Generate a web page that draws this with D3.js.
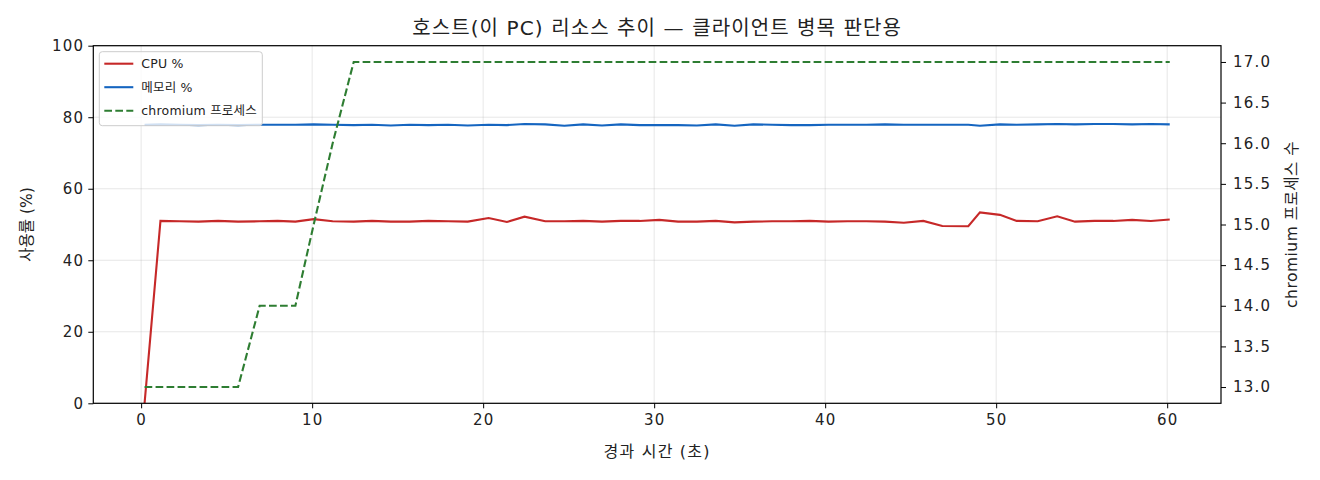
<!DOCTYPE html>
<html>
<head>
<meta charset="utf-8">
<script src="https://cdn.jsdelivr.net/npm/d3@7"></script>
<style>
  body { margin: 0; background: #fff; }
  text { font-family: "DejaVu Sans", "Noto Sans CJK KR", sans-serif; fill: #222; }
</style>
</head>
<body>
<div id="chart"></div>
<script>
// elapsed time (s) of each sample
var times = [0.2, 1.13, 2.25, 3.35, 4.5, 5.67, 6.93, 7.98, 9.02, 10.09,
  11.2, 12.43, 13.5, 14.6, 15.7, 16.8, 17.95, 19.1, 20.32, 21.39,
  22.42, 23.63, 24.75, 25.85, 26.95, 28.05, 29.15, 30.3, 31.4, 32.5,
  33.6, 34.7, 35.8, 36.9, 38.0, 39.1, 40.2, 41.3, 42.4, 43.5,
  44.6, 45.74, 46.85, 48.37, 49.05, 50.22, 51.2, 52.43, 53.57, 54.61,
  55.75, 56.85, 57.95, 59.05, 60.15];

var cpu = [0, 51.0, 50.9, 50.8, 51.0, 50.8, 50.9, 51.0, 50.8, 51.5,
  50.9, 50.8, 51.0, 50.8, 50.8, 51.0, 50.9, 50.8, 51.8, 50.7,
  52.2, 50.9, 50.9, 51.0, 50.8, 51.0, 51.0, 51.3, 50.8, 50.8,
  51.0, 50.6, 50.8, 50.9, 50.9, 51.0, 50.8, 50.9, 50.9, 50.8,
  50.5, 51.0, 49.6, 49.5, 53.4, 52.7, 51.0, 50.9, 52.3, 50.8,
  51.0, 51.0, 51.3, 51.0, 51.4];

var memory = [77.9, 78.0, 77.9, 77.8, 77.9, 77.8, 77.9, 77.9, 77.9, 78.0,
  77.9, 77.8, 77.9, 77.7, 77.9, 77.8, 77.9, 77.7, 77.9, 77.8,
  78.1, 78.0, 77.6, 78.0, 77.7, 78.0, 77.8, 77.8, 77.8, 77.7,
  78.0, 77.6, 78.0, 77.9, 77.8, 77.8, 77.9, 77.9, 77.9, 78.0,
  77.9, 77.9, 77.9, 77.9, 77.6, 78.0, 77.9, 78.0, 78.1, 78.0,
  78.1, 78.1, 78.0, 78.1, 78.0];

var procs = [13, 13, 13, 13, 13, 13, 14, 14, 14, 15,
  16, 17, 17, 17, 17, 17, 17, 17, 17, 17,
  17, 17, 17, 17, 17, 17, 17, 17, 17, 17,
  17, 17, 17, 17, 17, 17, 17, 17, 17, 17,
  17, 17, 17, 17, 17, 17, 17, 17, 17, 17,
  17, 17, 17, 17, 17];

var xTicks = [0, 10, 20, 30, 40, 50, 60];
var yTicks = [0, 20, 40, 60, 80, 100];
var y2Ticks = [13.0, 13.5, 14.0, 14.5, 15.0, 15.5, 16.0, 16.5, 17.0];

var series = [
  {name: 'CPU %', values: cpu, color: '#c62828', dash: null, axis: 'left'},
  {name: '메모리 %', values: memory, color: '#1565c0', dash: null, axis: 'left'},
  {name: 'chromium 프로세스', values: procs, color: '#2e7d32', dash: '7.7,3.3', axis: 'right'}
];

var WIDTH = 1320, HEIGHT = 480;
var margin = {top: 45.7, right: 99, bottom: 76.7, left: 93.3};
var w = WIDTH - margin.left - margin.right,
    h = HEIGHT - margin.top - margin.bottom;

var svg = d3.select('#chart').append('svg')
  .attr('width', WIDTH)
  .attr('height', HEIGHT);

var g = svg.append('g')
  .attr('transform', 'translate(' + margin.left + ',' + margin.top + ')');

// matplotlib style 5% padding on x
var xSpan = d3.max(times) - d3.min(times);
var x = d3.scaleLinear()
  .domain([d3.min(times) - 0.05 * xSpan, d3.max(times) + 0.05 * xSpan])
  .range([0, w]);
var y = d3.scaleLinear().domain([0, 100]).range([h, 0]);
var y2 = d3.scaleLinear().domain([12.8, 17.2]).range([h, 0]);

// grid
g.append('g').selectAll('line').data(xTicks).enter().append('line')
  .attr('x1', function(d) { return x(d); })
  .attr('x2', function(d) { return x(d); })
  .attr('y1', 0).attr('y2', h)
  .attr('stroke', '#b0b0b0').attr('stroke-opacity', 0.3).attr('stroke-width', 1);
g.append('g').selectAll('line').data(yTicks).enter().append('line')
  .attr('y1', function(d) { return y(d); })
  .attr('y2', function(d) { return y(d); })
  .attr('x1', 0).attr('x2', w)
  .attr('stroke', '#b0b0b0').attr('stroke-opacity', 0.3).attr('stroke-width', 1);

// lines
series.forEach(function(s) {
  var sc = s.axis === 'left' ? y : y2;
  var line = d3.line()
    .x(function(d, i) { return x(times[i]); })
    .y(function(d) { return sc(d); });
  g.append('path')
    .datum(s.values)
    .attr('fill', 'none')
    .attr('stroke', s.color)
    .attr('stroke-width', 2.1)
    .attr('stroke-dasharray', s.dash)
    .attr('d', line);
});

// axes
function styleAxis(sel) {
  sel.selectAll('.domain').remove();
  sel.selectAll('.tick line').attr('stroke', '#000').attr('stroke-width', 1);
  sel.selectAll('.tick text').attr('font-size', '15px').attr('fill', '#222')
    .style('letter-spacing', '1.2px')
    .style('font-family', '"DejaVu Sans", "Noto Sans CJK KR", sans-serif');
}

g.append('g')
  .attr('transform', 'translate(0,' + h + ')')
  .call(d3.axisBottom(x).tickValues(xTicks).tickSize(5).tickPadding(6))
  .call(styleAxis);
g.append('g')
  .call(d3.axisLeft(y).tickValues(yTicks).tickSize(5).tickPadding(4))
  .call(styleAxis);
g.append('g')
  .attr('transform', 'translate(' + w + ',0)')
  .call(d3.axisRight(y2).tickValues(y2Ticks).tickFormat(d3.format('.1f')).tickSize(5).tickPadding(7))
  .call(styleAxis);

// frame
g.append('rect')
  .attr('width', w).attr('height', h)
  .attr('fill', 'none').attr('stroke', '#000').attr('stroke-width', 1.2);

// titles
svg.append('text')
  .attr('x', margin.left + w / 2).attr('y', 35)
  .attr('text-anchor', 'middle').attr('font-size', '20px')
  .style('letter-spacing', '1.1px')
  .text('호스트(이 PC) 리소스 추이 — 클라이언트 병목 판단용');
svg.append('text')
  .attr('x', margin.left + w / 2).attr('y', 457)
  .attr('text-anchor', 'middle').attr('font-size', '16px')
  .style('letter-spacing', '1.2px')
  .text('경과 시간 (초)');
svg.append('text')
  .attr('transform', 'translate(32,' + (margin.top + h / 2) + ') rotate(-90)')
  .attr('text-anchor', 'middle').attr('font-size', '15.5px')
  .text('사용률 (%)');
svg.append('text')
  .attr('transform', 'translate(1297,' + (margin.top + h / 2) + ') rotate(-90)')
  .attr('text-anchor', 'middle').attr('font-size', '15.5px')
  .style('letter-spacing', '0.5px')
  .text('chromium 프로세스 수');

// legend
var legend = g.append('g').attr('transform', 'translate(6,6)');
legend.append('rect')
  .attr('width', 163).attr('height', 74).attr('rx', 3)
  .attr('fill', '#fff').attr('fill-opacity', 0.8)
  .attr('stroke', '#ccc').attr('stroke-width', 1);
series.forEach(function(s, i) {
  var row = legend.append('g').attr('transform', 'translate(0,' + (12 + i * 23.5) + ')');
  row.append('line')
    .attr('x1', 5).attr('x2', 34)
    .attr('stroke', s.color).attr('stroke-width', 2.1)
    .attr('stroke-dasharray', s.dash);
  row.append('text')
    .attr('x', 42).attr('y', 4.5)
    .attr('font-size', '12.5px')
    .style('letter-spacing', '0.2px')
    .text(s.name);
});
</script>
</body>
</html>
